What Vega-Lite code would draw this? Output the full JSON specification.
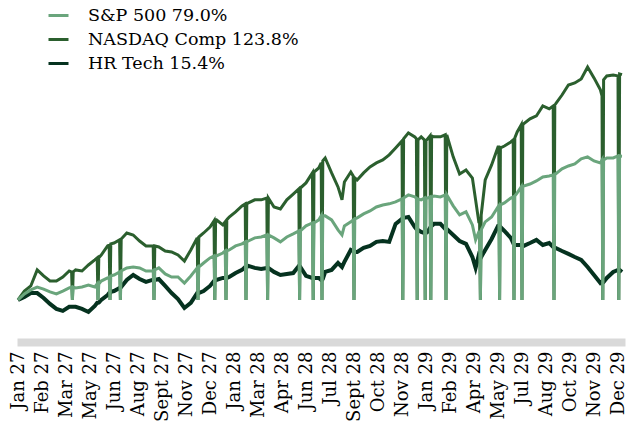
{
  "$schema": "https://vega.github.io/schema/vega-lite/v6.json",
  "width": 608,
  "height": 342,
  "autosize": {"type": "none"},
  "padding": {"left": 17, "top": 0, "right": 8, "bottom": 83},
  "config": {"view": {"stroke": null}, "font": "DejaVu Serif"},
  "data": {"values": [
    {"d":0,"sp":0,"nq":0,"hr":0},
    {"d":8,"sp":3.3,"nq":4.9,"hr":1.6},
    {"d":16,"sp":5.5,"nq":7.7,"hr":3.8},
    {"d":24,"sp":7.1,"nq":16.5,"hr":3.8},
    {"d":32,"sp":6.0,"nq":13.2,"hr":1.1},
    {"d":40,"sp":4.4,"nq":10.4,"hr":-2.2},
    {"d":48,"sp":3.3,"nq":10.4,"hr":-4.9},
    {"d":56,"sp":4.9,"nq":12.6,"hr":-6.0},
    {"d":64,"sp":6.6,"nq":15.9,"hr":-3.8},
    {"d":67,"sp":7.1,"nq":15.4,"hr":-3.8},
    {"d":68,"sp":0,"nq":0,"hr":-3.8},
    {"d":69,"sp":7.1,"nq":15.4,"hr":-3.8},
    {"d":72,"sp":6.6,"nq":16.5,"hr":-3.8},
    {"d":80,"sp":7.1,"nq":15.9,"hr":-4.9},
    {"d":88,"sp":8.2,"nq":19.2,"hr":-6.6},
    {"d":96,"sp":7.1,"nq":22.0,"hr":-3.3},
    {"d":99,"sp":8.8,"nq":23.1,"hr":-1.6},
    {"d":100,"sp":0,"nq":0,"hr":-1.6},
    {"d":101,"sp":8.8,"nq":23.1,"hr":-1.4},
    {"d":104,"sp":10.4,"nq":24.7,"hr":0},
    {"d":112,"sp":12.1,"nq":29.7,"hr":2.7},
    {"d":114,"sp":12.6,"nq":30.2,"hr":3.8},
    {"d":115,"sp":0,"nq":0,"hr":3.8},
    {"d":116,"sp":13.2,"nq":30.8,"hr":4.4},
    {"d":120,"sp":13.7,"nq":31.3,"hr":4.9},
    {"d":127,"sp":15.4,"nq":33.0,"hr":6.6},
    {"d":128,"sp":0,"nq":0,"hr":6.6},
    {"d":129,"sp":15.9,"nq":33.5,"hr":7.1},
    {"d":136,"sp":17.6,"nq":36.8,"hr":11.0},
    {"d":144,"sp":18.1,"nq":35.7,"hr":13.7},
    {"d":152,"sp":17.6,"nq":32.4,"hr":11.5},
    {"d":160,"sp":15.9,"nq":29.7,"hr":9.9},
    {"d":168,"sp":15.9,"nq":29.7,"hr":11.0},
    {"d":169,"sp":16.2,"nq":29.7,"hr":11.0},
    {"d":170,"sp":0,"nq":0,"hr":11.0},
    {"d":171,"sp":16.5,"nq":29.7,"hr":11.0},
    {"d":176,"sp":17.6,"nq":29.1,"hr":11.5},
    {"d":184,"sp":14.3,"nq":26.9,"hr":7.7},
    {"d":192,"sp":12.6,"nq":26.4,"hr":3.8},
    {"d":200,"sp":12.6,"nq":24.7,"hr":0.5},
    {"d":208,"sp":9.3,"nq":21.4,"hr":-4.4},
    {"d":216,"sp":13.2,"nq":27.5,"hr":-1.6},
    {"d":224,"sp":17.6,"nq":34.1,"hr":3.8},
    {"d":225,"sp":0,"nq":0,"hr":3.8},
    {"d":226,"sp":18.1,"nq":34.6,"hr":3.8},
    {"d":232,"sp":20.3,"nq":36.8,"hr":4.9},
    {"d":240,"sp":23.1,"nq":40.1,"hr":7.7},
    {"d":245,"sp":24.2,"nq":43.4,"hr":10.4},
    {"d":246,"sp":0,"nq":0,"hr":10.4},
    {"d":247,"sp":24.2,"nq":44.0,"hr":11.0},
    {"d":248,"sp":24.2,"nq":44.0,"hr":11.0},
    {"d":256,"sp":25.8,"nq":41.2,"hr":12.1},
    {"d":259,"sp":26.9,"nq":42.9,"hr":12.1},
    {"d":260,"sp":0,"nq":0,"hr":12.1},
    {"d":261,"sp":26.9,"nq":44.0,"hr":12.1},
    {"d":264,"sp":27.5,"nq":45.6,"hr":12.6},
    {"d":272,"sp":29.7,"nq":48.4,"hr":14.8},
    {"d":280,"sp":30.8,"nq":51.7,"hr":16.5},
    {"d":284,"sp":31.9,"nq":52.8,"hr":18.1},
    {"d":285,"sp":0,"nq":0,"hr":18.1},
    {"d":286,"sp":31.9,"nq":52.8,"hr":18.1},
    {"d":288,"sp":32.4,"nq":53.3,"hr":18.7},
    {"d":296,"sp":34.1,"nq":55.0,"hr":17.6},
    {"d":304,"sp":34.6,"nq":55.0,"hr":17.0},
    {"d":311,"sp":35.7,"nq":56.0,"hr":17.6},
    {"d":312,"sp":0,"nq":0,"hr":17.6},
    {"d":313,"sp":35.7,"nq":56.0,"hr":17.6},
    {"d":320,"sp":34.1,"nq":51.1,"hr":15.4},
    {"d":328,"sp":31.9,"nq":50.0,"hr":13.7},
    {"d":336,"sp":34.6,"nq":55.0,"hr":14.3},
    {"d":344,"sp":36.3,"nq":58.2,"hr":14.8},
    {"d":351,"sp":37.9,"nq":61.0,"hr":18.7},
    {"d":352,"sp":0,"nq":0,"hr":18.7},
    {"d":353,"sp":37.9,"nq":61.5,"hr":18.1},
    {"d":360,"sp":40.7,"nq":64.3,"hr":13.2},
    {"d":368,"sp":42.3,"nq":69.8,"hr":12.1},
    {"d":369,"sp":0,"nq":0,"hr":12.1},
    {"d":370,"sp":42.3,"nq":70.3,"hr":12.1},
    {"d":376,"sp":44.0,"nq":72.5,"hr":12.1},
    {"d":379,"sp":46.2,"nq":75.3,"hr":11.0},
    {"d":380,"sp":0,"nq":0,"hr":11.0},
    {"d":381,"sp":46.2,"nq":76.4,"hr":11.5},
    {"d":384,"sp":46.2,"nq":78.0,"hr":15.4},
    {"d":392,"sp":44.0,"nq":69.8,"hr":16.5},
    {"d":400,"sp":38.5,"nq":62.1,"hr":20.3},
    {"d":405,"sp":35.7,"nq":55.0,"hr":18.1},
    {"d":408,"sp":40.7,"nq":64.8,"hr":20.9},
    {"d":416,"sp":42.9,"nq":70.3,"hr":27.5},
    {"d":419,"sp":44.0,"nq":68.1,"hr":26.9},
    {"d":420,"sp":0,"nq":0,"hr":26.9},
    {"d":421,"sp":44.5,"nq":67.0,"hr":26.4},
    {"d":424,"sp":45.1,"nq":65.9,"hr":26.4},
    {"d":432,"sp":47.3,"nq":69.8,"hr":28.6},
    {"d":440,"sp":48.9,"nq":73.1,"hr":29.7},
    {"d":448,"sp":51.1,"nq":75.3,"hr":31.9},
    {"d":456,"sp":52.2,"nq":76.9,"hr":32.4},
    {"d":464,"sp":52.8,"nq":79.7,"hr":31.9},
    {"d":472,"sp":53.9,"nq":83.5,"hr":41.8},
    {"d":480,"sp":55.5,"nq":87.4,"hr":44.5},
    {"d":481,"sp":0,"nq":0,"hr":45.1},
    {"d":482,"sp":56.0,"nq":88.5,"hr":45.1},
    {"d":488,"sp":57.7,"nq":91.8,"hr":45.6},
    {"d":496,"sp":56.6,"nq":89.6,"hr":40.1},
    {"d":498,"sp":56.0,"nq":88.5,"hr":39.0},
    {"d":499,"sp":0,"nq":0,"hr":39.0},
    {"d":500,"sp":55.5,"nq":87.9,"hr":38.5},
    {"d":504,"sp":55.0,"nq":89.6,"hr":37.4},
    {"d":508,"sp":56.0,"nq":87.9,"hr":36.8},
    {"d":509,"sp":0,"nq":0,"hr":36.8},
    {"d":510,"sp":56.0,"nq":87.4,"hr":36.8},
    {"d":512,"sp":56.0,"nq":88.5,"hr":37.4},
    {"d":515,"sp":56.6,"nq":90.1,"hr":39.6},
    {"d":516,"sp":0,"nq":0,"hr":39.6},
    {"d":517,"sp":56.6,"nq":90.1,"hr":40.7},
    {"d":520,"sp":57.1,"nq":89.6,"hr":41.8},
    {"d":528,"sp":56.6,"nq":89.6,"hr":41.8},
    {"d":534,"sp":57.7,"nq":90.7,"hr":39.0},
    {"d":535,"sp":0,"nq":0,"hr":39.0},
    {"d":536,"sp":57.7,"nq":90.7,"hr":39.0},
    {"d":544,"sp":51.7,"nq":78.6,"hr":35.7},
    {"d":552,"sp":46.7,"nq":69.2,"hr":32.4},
    {"d":560,"sp":48.4,"nq":71.4,"hr":30.8},
    {"d":568,"sp":41.2,"nq":67.0,"hr":23.6},
    {"d":572,"sp":33.0,"nq":55.0,"hr":17.6},
    {"d":576,"sp":37.4,"nq":42.9,"hr":24.7},
    {"d":577,"sp":37.4,"nq":42.9,"hr":24.2},
    {"d":578,"sp":0,"nq":0,"hr":24.2},
    {"d":579,"sp":38.5,"nq":46.7,"hr":23.6},
    {"d":584,"sp":42.9,"nq":65.9,"hr":27.5},
    {"d":592,"sp":45.6,"nq":74.2,"hr":33.5},
    {"d":600,"sp":51.1,"nq":84.1,"hr":40.7},
    {"d":601,"sp":51.7,"nq":84.1,"hr":40.7},
    {"d":602,"sp":0,"nq":0,"hr":40.7},
    {"d":603,"sp":52.2,"nq":83.5,"hr":40.1},
    {"d":608,"sp":53.3,"nq":84.6,"hr":37.9},
    {"d":616,"sp":56.0,"nq":86.8,"hr":34.1},
    {"d":619,"sp":56.6,"nq":87.9,"hr":31.3},
    {"d":620,"sp":0,"nq":0,"hr":31.3},
    {"d":621,"sp":57.1,"nq":89.0,"hr":30.2},
    {"d":624,"sp":58.8,"nq":92.3,"hr":30.2},
    {"d":629,"sp":62.1,"nq":96.2,"hr":30.2},
    {"d":630,"sp":0,"nq":0,"hr":30.2},
    {"d":631,"sp":62.1,"nq":96.2,"hr":29.7},
    {"d":632,"sp":62.6,"nq":96.7,"hr":29.7},
    {"d":640,"sp":63.7,"nq":99.5,"hr":31.3},
    {"d":648,"sp":65.4,"nq":101.1,"hr":33.0},
    {"d":656,"sp":67.6,"nq":106.6,"hr":30.2},
    {"d":664,"sp":68.1,"nq":105.0,"hr":31.3},
    {"d":669,"sp":68.7,"nq":106.6,"hr":29.1},
    {"d":670,"sp":0,"nq":0,"hr":29.1},
    {"d":671,"sp":69.2,"nq":107.2,"hr":28.6},
    {"d":672,"sp":69.2,"nq":107.7,"hr":28.6},
    {"d":680,"sp":72.0,"nq":112.6,"hr":26.9},
    {"d":688,"sp":73.6,"nq":118.1,"hr":25.3},
    {"d":696,"sp":74.7,"nq":119.2,"hr":23.6},
    {"d":704,"sp":77.5,"nq":121.4,"hr":22.0},
    {"d":712,"sp":78.6,"nq":128.0,"hr":18.1},
    {"d":720,"sp":76.4,"nq":122.0,"hr":13.7},
    {"d":728,"sp":75.3,"nq":115.4,"hr":9.3},
    {"d":730,"sp":76.9,"nq":112.1,"hr":9.9},
    {"d":731,"sp":0,"nq":0,"hr":9.9},
    {"d":732,"sp":76.9,"nq":120.9,"hr":9.9},
    {"d":736,"sp":78.0,"nq":123.1,"hr":12.1},
    {"d":744,"sp":78.0,"nq":123.6,"hr":15.4},
    {"d":750,"sp":79.1,"nq":123.1,"hr":16.5},
    {"d":751,"sp":0,"nq":0,"hr":16.5},
    {"d":752,"sp":79.1,"nq":124.2,"hr":16.5},
    {"d":755,"sp":79.0,"nq":123.8,"hr":15.4}
  ]},
  "encoding": {
    "x": {
      "field": "d",
      "type": "quantitative",
      "scale": {"domain": [-1.25, 758.75], "nice": false, "zero": false},
      "axis": {
        "title": null,
        "values": [0,30,60,90,120,150,180,210,240,270,300,330,360,390,420,450,480,510,540,570,600,630,660,690,720,750],
        "labelExpr": "['Jan 27','Feb 27','Mar 27','May 27','Jun 27','Aug 27','Sept 27','Nov 27','Dec 27','Jan 28','Mar 28','Apr 28','Jun 28','Jul 28','Sept 28','Oct 28','Nov 28','Jan 29','Feb 29','Apr 29','May 29','Jul 29','Aug 29','Oct 29','Nov 29','Dec 29'][round(datum.value / 30)]",
        "labelAngle": 270,
        "labelFont": "DejaVu Serif",
        "labelFontSize": 18,
        "labelColor": "#000000",
        "labelPadding": 9,
        "labelOverlap": false,
        "labelFlush": false,
        "labelBound": false,
        "ticks": false,
        "tickSize": 0,
        "grid": false,
        "domainColor": "#d9d9d9",
        "domainWidth": 8
      }
    }
  },
  "layer": [
    {
      "mark": {"type": "line", "strokeWidth": 4},
      "encoding": {
        "y": {"field": "hr", "type": "quantitative", "scale": {"domain": [-23.1, 164.8], "nice": false, "zero": false}, "axis": null},
        "color": {
          "datum": "HR Tech 15.4%",
          "type": "nominal",
          "scale": {"domain": ["S&P 500 79.0%", "NASDAQ Comp 123.8%", "HR Tech 15.4%"], "range": ["#6aa57c", "#2b5f2e", "#05321f"]},
          "legend": {
            "orient": "none",
            "legendX": 30,
            "legendY": 4,
            "title": null,
            "padding": 0,
            "symbolType": "stroke",
            "symbolSize": 400,
            "symbolStrokeWidth": 3,
            "labelFont": "DejaVu Serif",
            "labelFontSize": 17.5,
            "labelColor": "#000000",
            "labelOffset": 18,
            "rowPadding": 4,
            "labelLimit": 400
          }
        }
      }
    },
    {
      "mark": {"type": "line", "strokeWidth": 3},
      "encoding": {
        "y": {"field": "nq", "type": "quantitative"},
        "color": {"datum": "NASDAQ Comp 123.8%", "type": "nominal"}
      }
    },
    {
      "mark": {"type": "line", "strokeWidth": 3},
      "encoding": {
        "y": {"field": "sp", "type": "quantitative"},
        "color": {"datum": "S&P 500 79.0%", "type": "nominal"}
      }
    }
  ]
}
